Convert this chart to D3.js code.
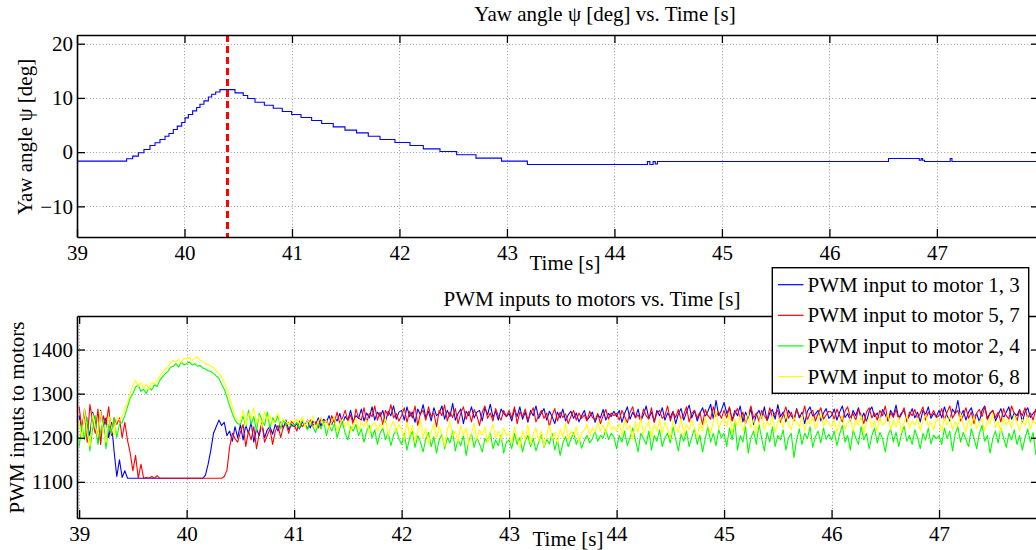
<!DOCTYPE html>
<html><head><meta charset="utf-8">
<script src="https://cdn.jsdelivr.net/npm/d3@7"></script>
<style>
body{margin:0;background:#fff}
svg{display:block;font-family:"Liberation Serif","Times New Roman",serif}
</style>
</head><body>
<svg id="chart" width="1036" height="550"></svg>
<script>
// ---------- DATA ----------
const xTicks = [39, 40, 41, 42, 43, 44, 45, 46, 47];
const yawTicks = [-10, 0, 10, 20];
const pwmTicks = [1100, 1200, 1300, 1400];

const yawTime = [39.00,39.462,39.518,39.571,39.623,39.679,39.726,39.772,39.819,39.856,39.896,39.933,39.974,40.005,40.036,40.076,40.113,40.144,40.181,40.222,40.253,40.290,40.330,40.470,40.547,40.588,40.656,40.743,40.826,40.910,40.997,41.084,41.183,41.276,41.384,41.493,41.601,41.710,41.819,41.958,42.098,42.222,42.377,42.532,42.712,42.950,43.190,44.307,44.330,44.360,44.380,44.400,46.550,46.836,46.854,46.867,46.885,47.124,47.140,48.800];
const yawValue = [-1.66,-1.23,-0.74,-0.12,0.49,1.23,1.72,2.33,2.94,3.44,4.17,4.79,5.46,6.32,6.93,7.61,8.22,8.83,9.45,10.18,10.67,11.10,11.53,10.92,10.43,9.88,9.20,8.65,8.10,7.48,6.93,6.38,5.83,5.28,4.66,4.05,3.56,2.94,2.33,1.78,1.23,0.61,0.12,-0.49,-1.10,-1.66,-2.27,-1.75,-2.27,-1.75,-2.20,-1.72,-1.17,-1.50,-1.17,-1.50,-1.72,-1.17,-1.72,-1.72];
const markerTime = 40.40;

const pwmStartTime = 39.0;
const pwmSampleStep = 0.025;

const pwm13 = [
1250,1215,1265,1230,1205,1258,1240,1190,1262,1225,1245,1200,1235,1170,1112,1150,1110,1125,1108,1108,1108,1108,1108,1108,1108,1108,1108,1108,1108,1108,1108,1108,1108,1108,1108,1108,1108,1108,1108,1108,
1108,1108,1108,1108,1108,1108,1108,1115,1140,1172,1210,1225,1240,1228,1235,1205,1215,1192,1225,1200,1230,1195,1228,1210,1235,1190,1220,1205,1232,1200,1218,1225,1208,1230,1215,1236,1222,1240,1218,1230,
1225,1232,1220,1236,1228,1240,1222,1238,1230,1245,1226,1242,1235,1250,1230,1246,1238,1255,1232,1248,1240,1262,1236,1250,1244,1265,1238,1256,1245,1270,1240,1258,1248,1262,1236,1260,1250,1272,1242,1258,
1262,1240,1270,1248,1258,1235,1265,1252,1275,1245,1260,1238,1268,1250,1256,1272,1242,1262,1248,1278,1240,1255,1265,1232,1260,1250,1270,1245,1258,1262,1238,1268,1252,1276,1246,1260,1240,1265,1255,1248,
1255,1238,1265,1248,1270,1242,1258,1235,1262,1250,1272,1244,1256,1266,1240,1260,1248,1232,1258,1245,1265,1238,1252,1260,1244,1256,1236,1250,1262,1240,1248,1258,1235,1252,1245,1264,1240,1255,1248,1260,
1248,1262,1235,1255,1270,1242,1258,1246,1265,1238,1252,1272,1244,1258,1236,1262,1250,1268,1240,1256,1246,1260,1232,1254,1266,1240,1258,1274,1245,1262,1238,1255,1268,1248,1260,1276,1242,1285,1250,1262,
1280,1255,1268,1240,1262,1250,1272,1236,1258,1245,1266,1230,1252,1262,1244,1270,1238,1256,1264,1242,1275,1248,1258,1236,1262,1250,1240,1266,1245,1258,1232,1260,1270,1248,1254,1262,1238,1256,1266,1244,
1250,1265,1240,1258,1272,1246,1255,1238,1262,1250,1268,1242,1256,1236,1260,1270,1248,1256,1240,1264,1252,1238,1262,1250,1274,1244,1256,1262,1240,1250,1266,1245,1258,1236,1262,1252,1270,1244,1255,1248,
1262,1245,1270,1250,1238,1265,1255,1285,1248,1262,1240,1258,1268,1246,1255,1236,1262,1272,1244,1256,1262,1238,1252,1266,1245,1258,1270,1242,1256,1250,1264,1236,1258,1268,1246,1255,1262,1240,1258,1250,
1256];

const pwm57 = [
1270,1220,1255,1190,1275,1240,1210,1265,1185,1250,1230,1270,1205,1245,1230,1245,1200,1235,1194,1165,1125,1160,1108,1140,1108,1110,1108,1112,1108,1114,1108,1108,1108,1108,1108,1108,1108,1108,1108,1108,
1108,1108,1108,1108,1108,1108,1108,1108,1108,1108,1108,1108,1108,1108,1112,1126,1179,1210,1198,1190,1212,1230,1180,1215,1195,1225,1175,1210,1235,1190,1205,1220,1185,1215,1228,1200,1225,1232,1210,1238,
1230,1215,1238,1225,1232,1220,1240,1228,1236,1222,1245,1230,1240,1226,1250,1235,1258,1232,1245,1262,1238,1252,1230,1265,1245,1240,1268,1235,1255,1248,1272,1240,1258,1230,1262,1250,1275,1245,1255,1238,
1250,1268,1235,1260,1245,1272,1228,1255,1262,1240,1270,1248,1256,1225,1262,1250,1274,1238,1258,1246,1266,1232,1255,1270,1242,1260,1236,1264,1250,1228,1258,1272,1244,1256,1238,1266,1250,1240,1262,1248,
1262,1245,1270,1232,1258,1248,1265,1240,1255,1268,1236,1250,1262,1244,1256,1225,1250,1266,1238,1258,1246,1254,1232,1248,1262,1240,1256,1244,1252,1238,1260,1246,1240,1255,1232,1250,1264,1242,1256,1250,
1255,1240,1262,1248,1234,1258,1270,1245,1252,1238,1265,1250,1242,1268,1235,1256,1262,1244,1250,1272,1238,1258,1246,1264,1240,1252,1270,1236,1255,1262,1245,1258,1230,1264,1250,1242,1270,1248,1258,1244,
1262,1245,1270,1238,1255,1266,1242,1258,1232,1250,1272,1244,1256,1236,1262,1250,1240,1268,1246,1256,1262,1235,1252,1270,1244,1258,1238,1264,1250,1246,1272,1240,1256,1262,1238,1255,1268,1242,1252,1260,
1258,1242,1265,1250,1236,1260,1270,1245,1255,1240,1264,1252,1232,1258,1268,1245,1256,1240,1262,1250,1272,1238,1256,1246,1264,1242,1252,1268,1236,1258,1250,1264,1244,1255,1270,1240,1258,1250,1262,1246,
1250,1266,1240,1258,1272,1245,1255,1262,1238,1250,1268,1244,1258,1232,1256,1264,1248,1270,1240,1255,1262,1246,1258,1236,1266,1250,1242,1272,1255,1238,1262,1250,1268,1244,1256,1240,1265,1252,1270,1245,
1255];

const pwm24 = [
1180,1230,1195,1245,1170,1220,1250,1185,1215,1240,1175,1230,1210,1245,1200,1230,1235,1250,1270,1290,1300,1315,1320,1305,1310,1300,1315,1308,1320,1316,1330,1338,1345,1350,1360,1362,1368,1360,1372,1365,
1368,1372,1365,1368,1362,1364,1358,1356,1352,1350,1346,1340,1335,1322,1310,1292,1272,1255,1240,1232,1230,1250,1225,1262,1230,1248,1215,1255,1240,1228,1258,1222,1245,1235,1250,1220,1240,1228,1235,1225,
1228,1235,1222,1240,1230,1218,1236,1225,1212,1232,1220,1238,1205,1228,1215,1232,1200,1222,1235,1210,1195,1225,1215,1230,1205,1220,1190,1215,1228,1200,1218,1185,1210,1222,1196,1212,1182,1205,1220,1198,
1185,1210,1172,1200,1215,1178,1205,1190,1168,1198,1212,1180,1202,1165,1195,1208,1175,1200,1188,1215,1170,1196,1182,1205,1160,1192,1210,1178,1200,1186,1168,1198,1190,1212,1175,1195,1182,1206,1165,1190,
1195,1175,1210,1185,1200,1168,1192,1205,1180,1198,1170,1190,1208,1178,1196,1186,1210,1172,1195,1160,1188,1202,1180,1196,1212,1185,1200,1176,1194,1205,1188,1198,1215,1192,1205,1200,1218,1196,1210,1202,
1175,1205,1190,1215,1182,1200,1222,1195,1168,1210,1198,1185,1215,1172,1205,1192,1218,1180,1200,1210,1188,1225,1196,1170,1208,1192,1215,1180,1202,1220,1185,1206,1168,1198,1225,1190,1210,1182,1218,1200,
1210,1180,1222,1195,1238,1172,1205,1190,1225,1165,1200,1215,1185,1230,1198,1170,1212,1190,1225,1180,1205,1195,1218,1172,1200,1210,1155,1195,1220,1185,1210,1198,1225,1178,1202,1215,1188,1222,1196,1208,
1195,1215,1182,1208,1228,1190,1205,1172,1218,1200,1185,1225,1195,1210,1175,1205,1222,1188,1212,1198,1168,1205,1220,1190,1212,1180,1208,1226,1192,1205,1185,1218,1200,1175,1210,1195,1222,1186,1206,1198,
1205,1185,1222,1198,1215,1170,1208,1225,1190,1212,1196,1180,1220,1200,1175,1210,1228,1192,1205,1165,1198,1215,1188,1222,1200,1178,1210,1195,1218,1185,1205,1172,1200,1220,1190,1212,1162,1198,1215,1205,
1195];

const pwm68 = [
1240,1195,1265,1210,1180,1255,1225,1200,1260,1215,1190,1250,1225,1205,1245,1240,1250,1265,1280,1300,1320,1330,1318,1325,1312,1322,1310,1325,1322,1330,1340,1348,1355,1362,1370,1375,1372,1378,1370,1380,
1378,1382,1375,1380,1383,1376,1372,1368,1366,1362,1360,1352,1346,1338,1325,1310,1292,1270,1250,1240,1236,1262,1228,1255,1245,1268,1232,1250,1222,1260,1238,1252,1230,1245,1255,1228,1242,1236,1230,1240,
1235,1242,1230,1248,1225,1240,1232,1250,1222,1238,1245,1228,1240,1220,1235,1248,1215,1232,1242,1225,1238,1212,1230,1245,1218,1235,1225,1240,1210,1228,1236,1215,1232,1222,1245,1205,1225,1238,1212,1230,
1220,1195,1235,1205,1228,1190,1215,1240,1200,1222,1185,1212,1232,1198,1225,1208,1180,1218,1236,1202,1215,1190,1228,1205,1222,1182,1210,1232,1196,1218,1205,1225,1188,1212,1230,1200,1215,1195,1222,1206,
1210,1188,1225,1200,1178,1215,1195,1230,1185,1208,1222,1192,1215,1180,1206,1228,1198,1212,1188,1220,1202,1232,1195,1215,1205,1225,1192,1210,1218,1230,1205,1222,1212,1235,1215,1228,1210,1240,1218,1225,
1215,1232,1205,1240,1218,1228,1195,1236,1212,1245,1208,1225,1238,1200,1230,1215,1242,1210,1235,1220,1198,1238,1225,1212,1245,1205,1230,1218,1240,1222,1200,1235,1215,1248,1225,1210,1238,1260,1220,1236,
1245,1225,1255,1210,1240,1228,1250,1215,1235,1258,1222,1242,1210,1236,1252,1218,1238,1226,1250,1212,1236,1245,1222,1255,1230,1218,1246,1234,1225,1252,1215,1240,1230,1248,1220,1238,1256,1225,1242,1232,
1225,1242,1212,1236,1250,1220,1232,1245,1215,1240,1228,1252,1210,1235,1245,1222,1238,1215,1248,1228,1236,1255,1218,1240,1225,1246,1212,1235,1250,1222,1238,1228,1245,1215,1240,1252,1225,1236,1218,1242,
1238,1215,1245,1228,1250,1218,1236,1225,1255,1230,1212,1242,1226,1250,1220,1236,1245,1215,1240,1232,1255,1222,1238,1212,1246,1230,1240,1222,1252,1235,1215,1242,1228,1248,1220,1238,1232,1255,1225,1240,
1232];

const seriesNames = ["PWM input to motor 1, 3", "PWM input to motor 5, 7", "PWM input to motor 2, 4", "PWM input to motor 6, 8"];
const seriesColors = ["#0000ff", "#ff0000", "#00ff00", "#ffff00"];

// ---------- DRAW ----------
const svg = d3.select("#chart");
const FONT = 21;
const fmt = d3.format("d");

function panel(cfg) {
  const x = d3.scaleLinear().domain(cfg.xDomain).range([cfg.left, cfg.right]);
  const y = d3.scaleLinear().domain(cfg.yDomain).range([cfg.bottom, cfg.top]);
  const g = svg.append("g");
  const clipId = "clip" + cfg.id;
  svg.append("clipPath").attr("id", clipId).append("rect")
    .attr("x", cfg.left).attr("y", cfg.top)
    .attr("width", cfg.right - cfg.left).attr("height", cfg.bottom - cfg.top);

  const grid = g.append("g").attr("stroke", "#9a9a9a").attr("stroke-width", 1).attr("stroke-dasharray", "1,2.2");
  grid.selectAll("line.gx").data(cfg.xTicks).join("line")
    .attr("x1", d => Math.round(x(d)) + 0.5).attr("x2", d => Math.round(x(d)) + 0.5)
    .attr("y1", cfg.top).attr("y2", cfg.bottom);
  grid.selectAll("line.gy").data(cfg.yTicks).join("line")
    .attr("y1", d => Math.round(y(d)) + 0.5).attr("y2", d => Math.round(y(d)) + 0.5)
    .attr("x1", cfg.left).attr("x2", cfg.right);

  const data = g.append("g").attr("clip-path", `url(#${clipId})`);

  const ax = [];
  ax.push(g.append("g").attr("transform", `translate(0,${cfg.bottom})`)
    .call(d3.axisBottom(x).tickValues(cfg.xTicks).tickSize(-8).tickSizeOuter(0).tickPadding(8).tickFormat(fmt)));
  ax.push(g.append("g").attr("transform", `translate(0,${cfg.top})`)
    .call(d3.axisTop(x).tickValues(cfg.xTicks).tickSize(-8).tickSizeOuter(0).tickFormat(() => "")));
  ax.push(g.append("g").attr("transform", `translate(${cfg.left},0)`)
    .call(d3.axisLeft(y).tickValues(cfg.yTicks).tickSize(-8).tickSizeOuter(0).tickPadding(4).tickFormat(fmt)));
  ax.push(g.append("g").attr("transform", `translate(${cfg.right},0)`)
    .call(d3.axisRight(y).tickValues(cfg.yTicks).tickSize(-8).tickSizeOuter(0).tickFormat(() => "")));
  ax.forEach(a => {
    a.attr("font-family", null).attr("font-size", null);
    a.select(".domain").attr("stroke", "#000").attr("stroke-width", 1.6);
    a.selectAll(".tick line").attr("stroke", "#000").attr("stroke-width", 1.3);
    a.selectAll(".tick text").attr("fill", "#000").style("font-size", FONT + "px");
  });

  g.append("text").attr("x", cfg.titleX).attr("y", cfg.titleY).attr("text-anchor", "middle")
    .style("font-size", FONT + "px").text(cfg.title);
  g.append("text").attr("x", cfg.xLabelX).attr("y", cfg.xLabelY).attr("text-anchor", "middle")
    .style("font-size", FONT + "px").text("Time [s]");
  g.append("text").attr("transform", `translate(${cfg.yLabelX},${cfg.yLabelY}) rotate(-90)`)
    .attr("text-anchor", "middle").style("font-size", FONT + "px").text(cfg.yLabel);

  return {x, y, data, g};
}

// top panel: yaw angle
const yawPanel = panel({
  id: "a", left: 77, right: 1039, top: 35, bottom: 237,
  xDomain: [39, 47.95], yDomain: [-15.65, 21.6],
  xTicks: xTicks, yTicks: yawTicks,
  title: "Yaw angle ψ [deg] vs. Time [s]", titleX: 605, titleY: 20.5,
  xLabelX: 565, xLabelY: 269.5,
  yLabel: "Yaw angle ψ [deg]", yLabelX: 32, yLabelY: 137
});
const yawData = yawTime.map((t, i) => [t, yawValue[i]]);
yawPanel.data.append("path").datum(yawData)
  .attr("fill", "none").attr("stroke", "#0000ff").attr("stroke-width", 1.1)
  .attr("d", d3.line().x(d => yawPanel.x(d[0])).y(d => yawPanel.y(d[1])).curve(d3.curveStepAfter));
yawPanel.data.append("line")
  .attr("x1", yawPanel.x(markerTime)).attr("x2", yawPanel.x(markerTime))
  .attr("y1", yawPanel.y(yawPanel.y.domain()[1])).attr("y2", yawPanel.y(yawPanel.y.domain()[0]))
  .attr("stroke", "#ff0000").attr("stroke-width", 3).attr("stroke-dasharray", "7,4");

// bottom panel: PWM
const pwmPanel = panel({
  id: "b", left: 77, right: 1039, top: 316, bottom: 518,
  xDomain: [38.98, 47.93], yDomain: [1018, 1476],
  xTicks: xTicks, yTicks: pwmTicks,
  title: "PWM inputs to motors vs. Time [s]", titleX: 592, titleY: 306,
  xLabelX: 568, xLabelY: 546,
  yLabel: "PWM inputs to motors", yLabelX: 23.5, yLabelY: 417.5
});
const allSeries = [pwm13, pwm57, pwm24, pwm68];
const pwmLine = d3.line().x(d => pwmPanel.x(d[0])).y(d => pwmPanel.y(d[1]));
allSeries.forEach((vals, k) => {
  const pts = vals.map((v, i) => [pwmStartTime + i * pwmSampleStep, v]);
  pwmPanel.data.append("path").datum(pts)
    .attr("fill", "none").attr("stroke", seriesColors[k]).attr("stroke-width", 1.1)
    .attr("stroke-linejoin", "round")
    .attr("d", pwmLine);
});

// legend
const lg = svg.append("g");
lg.append("rect").attr("x", 772.3).attr("y", 267.7).attr("width", 256.4).attr("height", 125.6)
  .attr("fill", "#fff").attr("stroke", "#000").attr("stroke-width", 1.4);
seriesNames.forEach((name, i) => {
  const by = 291.7 + i * 30.6;
  lg.append("line").attr("x1", 778).attr("x2", 803.5).attr("y1", by - 7).attr("y2", by - 7)
    .attr("stroke", seriesColors[i]).attr("stroke-width", 1.2);
  lg.append("text").attr("x", 807.5).attr("y", by).style("font-size", FONT + "px").text(name);
});
</script>
</body></html>
